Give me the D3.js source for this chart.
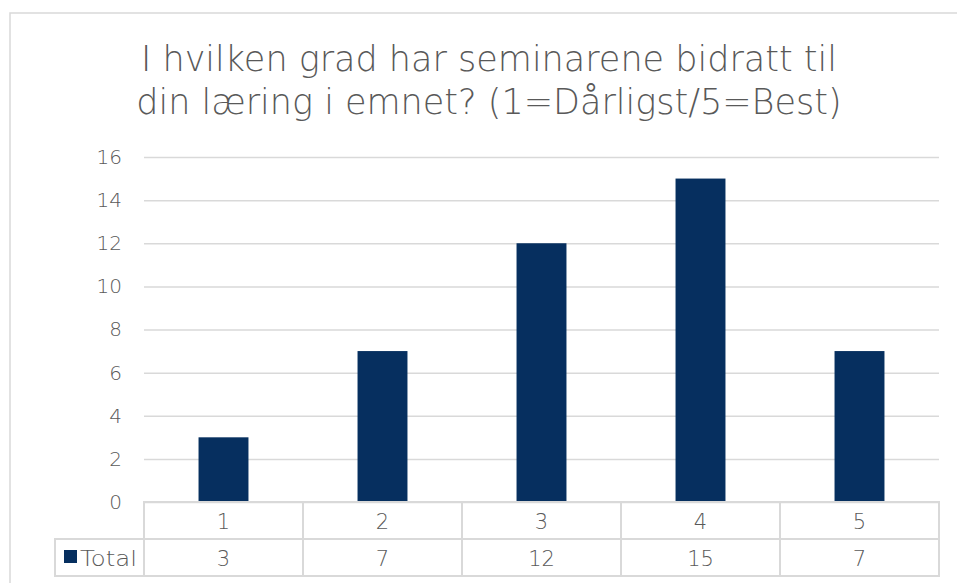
<html>
<head>
  <meta charset="utf-8" />
  <script src="https://cdnjs.cloudflare.com/ajax/libs/d3/7.8.5/d3.min.js"></script>
  <style>
    body { margin: 0; background: #fff; }
    text { font-family: "Century Gothic", "DejaVu Sans", sans-serif; font-weight: 200; fill: #595959; }
  </style>
</head>
<body>
  <svg></svg>
  <script>
  // data
  var categories = ["1", "2", "3", "4", "5"]
  var totals = [3, 7, 12, 15, 7]
  var yTicks = [0, 2, 4, 6, 8, 10, 12, 14, 16]
  var titleLines = ["I hvilken grad har seminarene bidratt til", "din læring i emnet? (1=Dårligst/5=Best)"]
  var seriesName = "Total"

  var svg = d3.select("svg").attr("width", 957).attr("height", 583)
  var grey = "#d9d9d9", navy = "#062f5f"

  // chart frame (only top and left are visible)
  svg.append("rect").attr("x", 10).attr("y", 13).attr("width", 1000).attr("height", 700)
    .attr("fill", "none").attr("stroke", grey).attr("stroke-width", 1.5)

  // title
  svg.selectAll("text.title").data(titleLines).enter().append("text")
    .attr("class", "title")
    .attr("x", 489).attr("y", (d, i) => 71 + i * 42.5)
    .attr("text-anchor", "middle")
    .style("font-size", "35px")
    .text(d => d)

  var xScale = d3.scaleBand().domain(categories).range([144, 939])
                 .paddingInner(0.686).paddingOuter(0.343)
  var yScale = d3.scaleLinear().domain([0, 16]).range([502, 157])

  // gridlines + y labels
  var yAxis = d3.axisLeft(yScale).tickValues(yTicks).tickSize(-(939 - 144)).tickPadding(22)
  var gy = svg.append("g").attr("transform", "translate(144,0)").call(yAxis)
  gy.select(".domain").remove()
  gy.selectAll(".tick line").attr("stroke", grey).attr("stroke-width", 1.5)
  gy.selectAll(".tick text").style("font-size", "20px").style("font-family", null).attr("fill", "#595959")

  // bars
  svg.selectAll("rect.bar").data(totals).enter().append("rect")
    .attr("class", "bar")
    .attr("x", (d, i) => xScale(categories[i]))
    .attr("width", xScale.bandwidth())
    .attr("y", d => yScale(d))
    .attr("height", d => yScale(0) - yScale(d))
    .attr("fill", navy)

  // data table
  var step = xScale.step()
  var rowH = 37, tableTop = yScale(0)
  var tbl = svg.append("g")
  tbl.append("rect").attr("x", 144).attr("y", tableTop).attr("width", step * 5).attr("height", rowH * 2)
    .attr("fill", "none").attr("stroke", grey).attr("stroke-width", 2)
  tbl.append("rect").attr("x", 55).attr("y", tableTop + rowH).attr("width", 89).attr("height", rowH)
    .attr("fill", "none").attr("stroke", grey).attr("stroke-width", 2)
  tbl.append("line").attr("x1", 144).attr("x2", 144 + step * 5)
    .attr("y1", tableTop + rowH).attr("y2", tableTop + rowH).attr("stroke", grey).attr("stroke-width", 2)
  categories.forEach((c, i) => {
    if (i > 0) {
      tbl.append("line").attr("x1", 144 + i * step).attr("x2", 144 + i * step)
        .attr("y1", tableTop).attr("y2", tableTop + rowH * 2).attr("stroke", grey).attr("stroke-width", 2)
    }
    var cx = xScale(c) + xScale.bandwidth() / 2
    tbl.append("text").attr("x", cx).attr("y", tableTop + 27).attr("text-anchor", "middle")
      .style("font-size", "21px").text(c)
    tbl.append("text").attr("x", cx).attr("y", tableTop + rowH + 27).attr("text-anchor", "middle")
      .style("font-size", "21px").text(totals[i])
  })
  // legend key
  tbl.append("rect").attr("x", 64).attr("y", tableTop + rowH + 11).attr("width", 13).attr("height", 13)
    .attr("fill", navy)
  tbl.append("text").attr("x", 80).attr("y", tableTop + rowH + 27)
    .attr("textLength", 57).attr("lengthAdjust", "spacingAndGlyphs")
    .style("font-size", "21px").text(seriesName)
  </script>
</body>
</html>
